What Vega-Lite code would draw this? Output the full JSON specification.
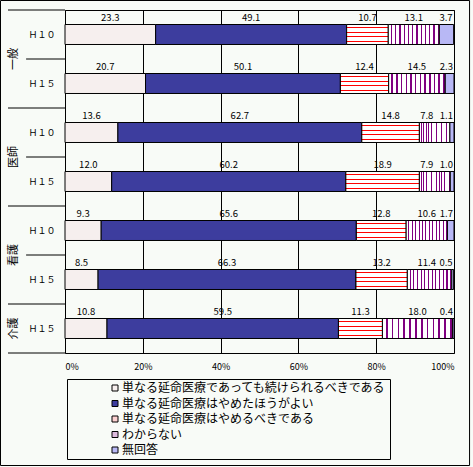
{
  "$schema": "https://vega.github.io/schema/vega-lite/v6.json",
  "width": 389,
  "height": 343,
  "autosize": {"type": "none"},
  "padding": {"left": 65, "top": 10, "right": 19, "bottom": 114},
  "background": "#f8fbf7",
  "config": {
    "font": "Noto Sans CJK JP",
    "view": {"stroke": "black", "strokeWidth": 1},
    "text": {"font": "Noto Sans CJK JP", "color": "black"}
  },
  "datasets": {
    "bars": [
      {"group": "一般", "period": "H10", "answer": "単なる延命医療であっても続けられるべきである", "value": 23.3},
      {"group": "一般", "period": "H10", "answer": "単なる延命医療はやめたほうがよい", "value": 49.1},
      {"group": "一般", "period": "H10", "answer": "単なる延命医療はやめるべきである", "value": 10.7},
      {"group": "一般", "period": "H10", "answer": "わからない", "value": 13.1},
      {"group": "一般", "period": "H10", "answer": "無回答", "value": 3.7},
      {"group": "一般", "period": "H15", "answer": "単なる延命医療であっても続けられるべきである", "value": 20.7},
      {"group": "一般", "period": "H15", "answer": "単なる延命医療はやめたほうがよい", "value": 50.1},
      {"group": "一般", "period": "H15", "answer": "単なる延命医療はやめるべきである", "value": 12.4},
      {"group": "一般", "period": "H15", "answer": "わからない", "value": 14.5},
      {"group": "一般", "period": "H15", "answer": "無回答", "value": 2.3},
      {"group": "医師", "period": "H10", "answer": "単なる延命医療であっても続けられるべきである", "value": 13.6},
      {"group": "医師", "period": "H10", "answer": "単なる延命医療はやめたほうがよい", "value": 62.7},
      {"group": "医師", "period": "H10", "answer": "単なる延命医療はやめるべきである", "value": 14.8},
      {"group": "医師", "period": "H10", "answer": "わからない", "value": 7.8},
      {"group": "医師", "period": "H10", "answer": "無回答", "value": 1.1},
      {"group": "医師", "period": "H15", "answer": "単なる延命医療であっても続けられるべきである", "value": 12.0},
      {"group": "医師", "period": "H15", "answer": "単なる延命医療はやめたほうがよい", "value": 60.2},
      {"group": "医師", "period": "H15", "answer": "単なる延命医療はやめるべきである", "value": 18.9},
      {"group": "医師", "period": "H15", "answer": "わからない", "value": 7.9},
      {"group": "医師", "period": "H15", "answer": "無回答", "value": 1.0},
      {"group": "看護", "period": "H10", "answer": "単なる延命医療であっても続けられるべきである", "value": 9.3},
      {"group": "看護", "period": "H10", "answer": "単なる延命医療はやめたほうがよい", "value": 65.6},
      {"group": "看護", "period": "H10", "answer": "単なる延命医療はやめるべきである", "value": 12.8},
      {"group": "看護", "period": "H10", "answer": "わからない", "value": 10.6},
      {"group": "看護", "period": "H10", "answer": "無回答", "value": 1.7},
      {"group": "看護", "period": "H15", "answer": "単なる延命医療であっても続けられるべきである", "value": 8.5},
      {"group": "看護", "period": "H15", "answer": "単なる延命医療はやめたほうがよい", "value": 66.3},
      {"group": "看護", "period": "H15", "answer": "単なる延命医療はやめるべきである", "value": 13.2},
      {"group": "看護", "period": "H15", "answer": "わからない", "value": 11.4},
      {"group": "看護", "period": "H15", "answer": "無回答", "value": 0.5},
      {"group": "介護", "period": "H15", "answer": "単なる延命医療であっても続けられるべきである", "value": 10.8},
      {"group": "介護", "period": "H15", "answer": "単なる延命医療はやめたほうがよい", "value": 59.5},
      {"group": "介護", "period": "H15", "answer": "単なる延命医療はやめるべきである", "value": 11.3},
      {"group": "介護", "period": "H15", "answer": "わからない", "value": 18.0},
      {"group": "介護", "period": "H15", "answer": "無回答", "value": 0.4}
    ],
    "innerBounds": [{"key": "一般H15"}, {"key": "医師H15"}, {"key": "看護H15"}],
    "groupBounds": [{"key": "一般H10"}, {"key": "医師H10"}, {"key": "看護H10"}, {"key": "介護H15"}],
    "groups": [
      {"group": "一般", "key": "一般H15"},
      {"group": "医師", "key": "医師H15"},
      {"group": "看護", "key": "看護H15"},
      {"group": "介護", "key": "介護H15"}
    ]
  },
  "layer": [
    {
      "data": {"name": "bars"},
      "transform": [
        {"calculate": "datum.group + datum.period", "as": "key"},
        {"calculate": "indexof(['単なる延命医療であっても続けられるべきである','単なる延命医療はやめたほうがよい','単なる延命医療はやめるべきである','わからない','無回答'], datum.answer)", "as": "k"},
        {"stack": "value", "groupby": ["key"], "sort": [{"field": "k", "order": "ascending"}], "as": ["x0", "x1"]},
        {"calculate": "min((datum.x0 + datum.x1) / 2, 93)", "as": "mid"}
      ],
      "layer": [
        {
          "mark": {"type": "bar", "height": {"band": 0.408}, "stroke": "black", "strokeWidth": 1},
          "encoding": {
            "x": {
              "field": "x0", "type": "quantitative", "title": null,
              "scale": {"domain": [0, 100], "nice": false},
              "axis": {
                "values": [0, 20, 40, 60, 80, 100], "grid": true, "gridColor": "black", "gridOpacity": 1,
                "ticks": false, "domain": false, "labelExpr": "datum.value + '%'",
                "labelFontSize": 9, "labelPadding": 9, "labelColor": "black"
              }
            },
            "x2": {"field": "x1"},
            "y": {
              "field": "key", "type": "nominal", "title": null,
              "scale": {"domain": ["一般H10", "一般H15", "医師H10", "医師H15", "看護H10", "看護H15", "介護H15"], "paddingInner": 0, "paddingOuter": 0},
              "axis": {
                "ticks": false, "domain": false, "grid": false,
                "labelExpr": "indexof(datum.value, 'H10') >= 0 ? 'Ｈ１０' : 'Ｈ１５'",
                "labelFontSize": 9, "labelPadding": 10, "labelColor": "black"
              }
            },
            "color": {
              "field": "answer", "type": "nominal",
              "scale": {
                "domain": ["単なる延命医療であっても続けられるべきである", "単なる延命医療はやめたほうがよい", "単なる延命医療はやめるべきである", "わからない", "無回答"],
                "range": ["#f6efee", "#3d3d9e", "#fbd0d0", "#dcbadc", "#b8b8f5"]
              },
              "legend": {
                "orient": "none", "legendX": 2, "legendY": 369, "direction": "vertical",
                "title": "　", "titleOrient": "left", "titlePadding": 39,
                "symbolType": "square", "symbolSize": 36, "symbolStrokeColor": "black", "symbolStrokeWidth": 1,
                "labelFontSize": 12, "labelLimit": 330, "labelOffset": 1, "labelColor": "black",
                "labelExpr": "datum.label + '　　　'",
                "rowPadding": 3.5, "strokeColor": "black", "padding": 3
              }
            }
          }
        },
        {
          "transform": [{"filter": "datum.k == 2"}],
          "mark": {
            "type": "bar", "height": {"band": 0.408}, "stroke": "black", "strokeWidth": 1,
            "fill": {
              "gradient": "linear", "x1": 0, "y1": 0, "x2": 0, "y2": 1,
              "stops": [
                {"offset": 0, "color": "#ffffff"}, {"offset": 0.14, "color": "#ffffff"},
                {"offset": 0.14, "color": "#ff0000"}, {"offset": 0.19, "color": "#ff0000"},
                {"offset": 0.19, "color": "#ffffff"}, {"offset": 0.36, "color": "#ffffff"},
                {"offset": 0.36, "color": "#ff0000"}, {"offset": 0.41, "color": "#ff0000"},
                {"offset": 0.41, "color": "#ffffff"}, {"offset": 0.59, "color": "#ffffff"},
                {"offset": 0.59, "color": "#ff0000"}, {"offset": 0.64, "color": "#ff0000"},
                {"offset": 0.64, "color": "#ffffff"}, {"offset": 0.81, "color": "#ffffff"},
                {"offset": 0.81, "color": "#ff0000"}, {"offset": 0.86, "color": "#ff0000"},
                {"offset": 0.86, "color": "#ffffff"}, {"offset": 1, "color": "#ffffff"}
              ]
            }
          },
          "encoding": {
            "x": {"field": "x0", "type": "quantitative", "title": null, "scale": {"domain": [0, 100], "nice": false}},
            "x2": {"field": "x1"},
            "y": {"field": "key", "type": "nominal", "title": null}
          }
        },
        {
          "transform": [{"filter": "datum.k == 3"}],
          "mark": {
            "type": "bar", "height": {"band": 0.408}, "stroke": "black", "strokeWidth": 1,
            "fill": {
              "gradient": "linear", "x1": 0, "y1": 0, "x2": 1, "y2": 0,
              "stops": [
                {"offset": 0, "color": "#ffffff"}, {"offset": 0.05, "color": "#ffffff"},
                {"offset": 0.05, "color": "#800080"}, {"offset": 0.075, "color": "#800080"},
                {"offset": 0.075, "color": "#ffffff"}, {"offset": 0.133, "color": "#ffffff"},
                {"offset": 0.133, "color": "#800080"}, {"offset": 0.158, "color": "#800080"},
                {"offset": 0.158, "color": "#ffffff"}, {"offset": 0.217, "color": "#ffffff"},
                {"offset": 0.217, "color": "#800080"}, {"offset": 0.242, "color": "#800080"},
                {"offset": 0.242, "color": "#ffffff"}, {"offset": 0.3, "color": "#ffffff"},
                {"offset": 0.3, "color": "#800080"}, {"offset": 0.325, "color": "#800080"},
                {"offset": 0.325, "color": "#ffffff"}, {"offset": 0.383, "color": "#ffffff"},
                {"offset": 0.383, "color": "#800080"}, {"offset": 0.408, "color": "#800080"},
                {"offset": 0.408, "color": "#ffffff"}, {"offset": 0.467, "color": "#ffffff"},
                {"offset": 0.467, "color": "#800080"}, {"offset": 0.492, "color": "#800080"},
                {"offset": 0.492, "color": "#ffffff"}, {"offset": 0.55, "color": "#ffffff"},
                {"offset": 0.55, "color": "#800080"}, {"offset": 0.575, "color": "#800080"},
                {"offset": 0.575, "color": "#ffffff"}, {"offset": 0.633, "color": "#ffffff"},
                {"offset": 0.633, "color": "#800080"}, {"offset": 0.658, "color": "#800080"},
                {"offset": 0.658, "color": "#ffffff"}, {"offset": 0.717, "color": "#ffffff"},
                {"offset": 0.717, "color": "#800080"}, {"offset": 0.742, "color": "#800080"},
                {"offset": 0.742, "color": "#ffffff"}, {"offset": 0.8, "color": "#ffffff"},
                {"offset": 0.8, "color": "#800080"}, {"offset": 0.825, "color": "#800080"},
                {"offset": 0.825, "color": "#ffffff"}, {"offset": 0.883, "color": "#ffffff"},
                {"offset": 0.883, "color": "#800080"}, {"offset": 0.908, "color": "#800080"},
                {"offset": 0.908, "color": "#ffffff"}, {"offset": 0.967, "color": "#ffffff"},
                {"offset": 0.967, "color": "#800080"}, {"offset": 0.992, "color": "#800080"},
                {"offset": 0.992, "color": "#ffffff"}, {"offset": 1, "color": "#ffffff"}
              ]
            }
          },
          "encoding": {
            "x": {"field": "x0", "type": "quantitative", "title": null, "scale": {"domain": [0, 100], "nice": false}},
            "x2": {"field": "x1"},
            "y": {"field": "key", "type": "nominal", "title": null}
          }
        },
        {
          "transform": [{"filter": "datum.k < 4"}],
          "mark": {"type": "text", "fontSize": 9.5, "dy": -17, "align": "center", "baseline": "middle"},
          "encoding": {
            "x": {"field": "mid", "type": "quantitative", "title": null, "scale": {"domain": [0, 100], "nice": false}},
            "y": {"field": "key", "type": "nominal", "title": null},
            "text": {"field": "value", "type": "quantitative", "format": ".1f"}
          }
        },
        {
          "transform": [{"filter": "datum.k == 4"}],
          "mark": {"type": "text", "fontSize": 9.5, "dy": -17, "dx": -1, "align": "right", "baseline": "middle"},
          "encoding": {
            "x": {"field": "x1", "type": "quantitative", "title": null, "scale": {"domain": [0, 100], "nice": false}},
            "y": {"field": "key", "type": "nominal", "title": null},
            "text": {"field": "value", "type": "quantitative", "format": ".1f"}
          }
        }
      ]
    },
    {
      "data": {"name": "innerBounds"},
      "mark": {"type": "rule", "color": "black", "strokeWidth": 1},
      "encoding": {
        "x": {"datum": -10},
        "x2": {"datum": 0},
        "y": {"field": "key", "type": "nominal", "bandPosition": 0, "title": null}
      }
    },
    {
      "data": {"name": "groupBounds"},
      "mark": {"type": "rule", "color": "black", "strokeWidth": 1},
      "encoding": {
        "x": {"datum": -14.65},
        "x2": {"datum": 0},
        "y": {"field": "key", "type": "nominal", "bandPosition": 0, "title": null}
      }
    },
    {
      "data": {"values": [{"key": "介護H15"}]},
      "mark": {"type": "rule", "color": "black", "strokeWidth": 1},
      "encoding": {
        "x": {"datum": -14.65},
        "x2": {"datum": 0},
        "y": {"field": "key", "type": "nominal", "bandPosition": 1, "title": null}
      }
    },
    {
      "data": {"values": [{"top": "一般H10", "bottom": "介護H15"}]},
      "mark": {"type": "rect", "fill": null, "stroke": "black", "strokeWidth": 1, "yOffset": -9.5, "y2Offset": 112.5},
      "encoding": {
        "x": {"datum": -16.58},
        "x2": {"datum": 104.0},
        "y": {"field": "top", "type": "nominal", "bandPosition": 0, "title": null},
        "y2": {"field": "bottom", "bandPosition": 1}
      }
    },
    {
      "data": {"name": "groups"},
      "transform": [{"filter": "datum.group != '介護'"}],
      "mark": {"type": "text", "fontSize": 11, "angle": 270, "align": "center", "baseline": "middle"},
      "encoding": {
        "x": {"datum": -13.2},
        "y": {"field": "key", "type": "nominal", "bandPosition": 0, "title": null},
        "text": {"field": "group"}
      }
    },
    {
      "data": {"name": "groups"},
      "transform": [{"filter": "datum.group == '介護'"}],
      "mark": {"type": "text", "fontSize": 11, "angle": 270, "align": "center", "baseline": "middle"},
      "encoding": {
        "x": {"datum": -13.2},
        "y": {"field": "key", "type": "nominal", "bandPosition": 0.5, "title": null},
        "text": {"field": "group"}
      }
    }
  ]
}
